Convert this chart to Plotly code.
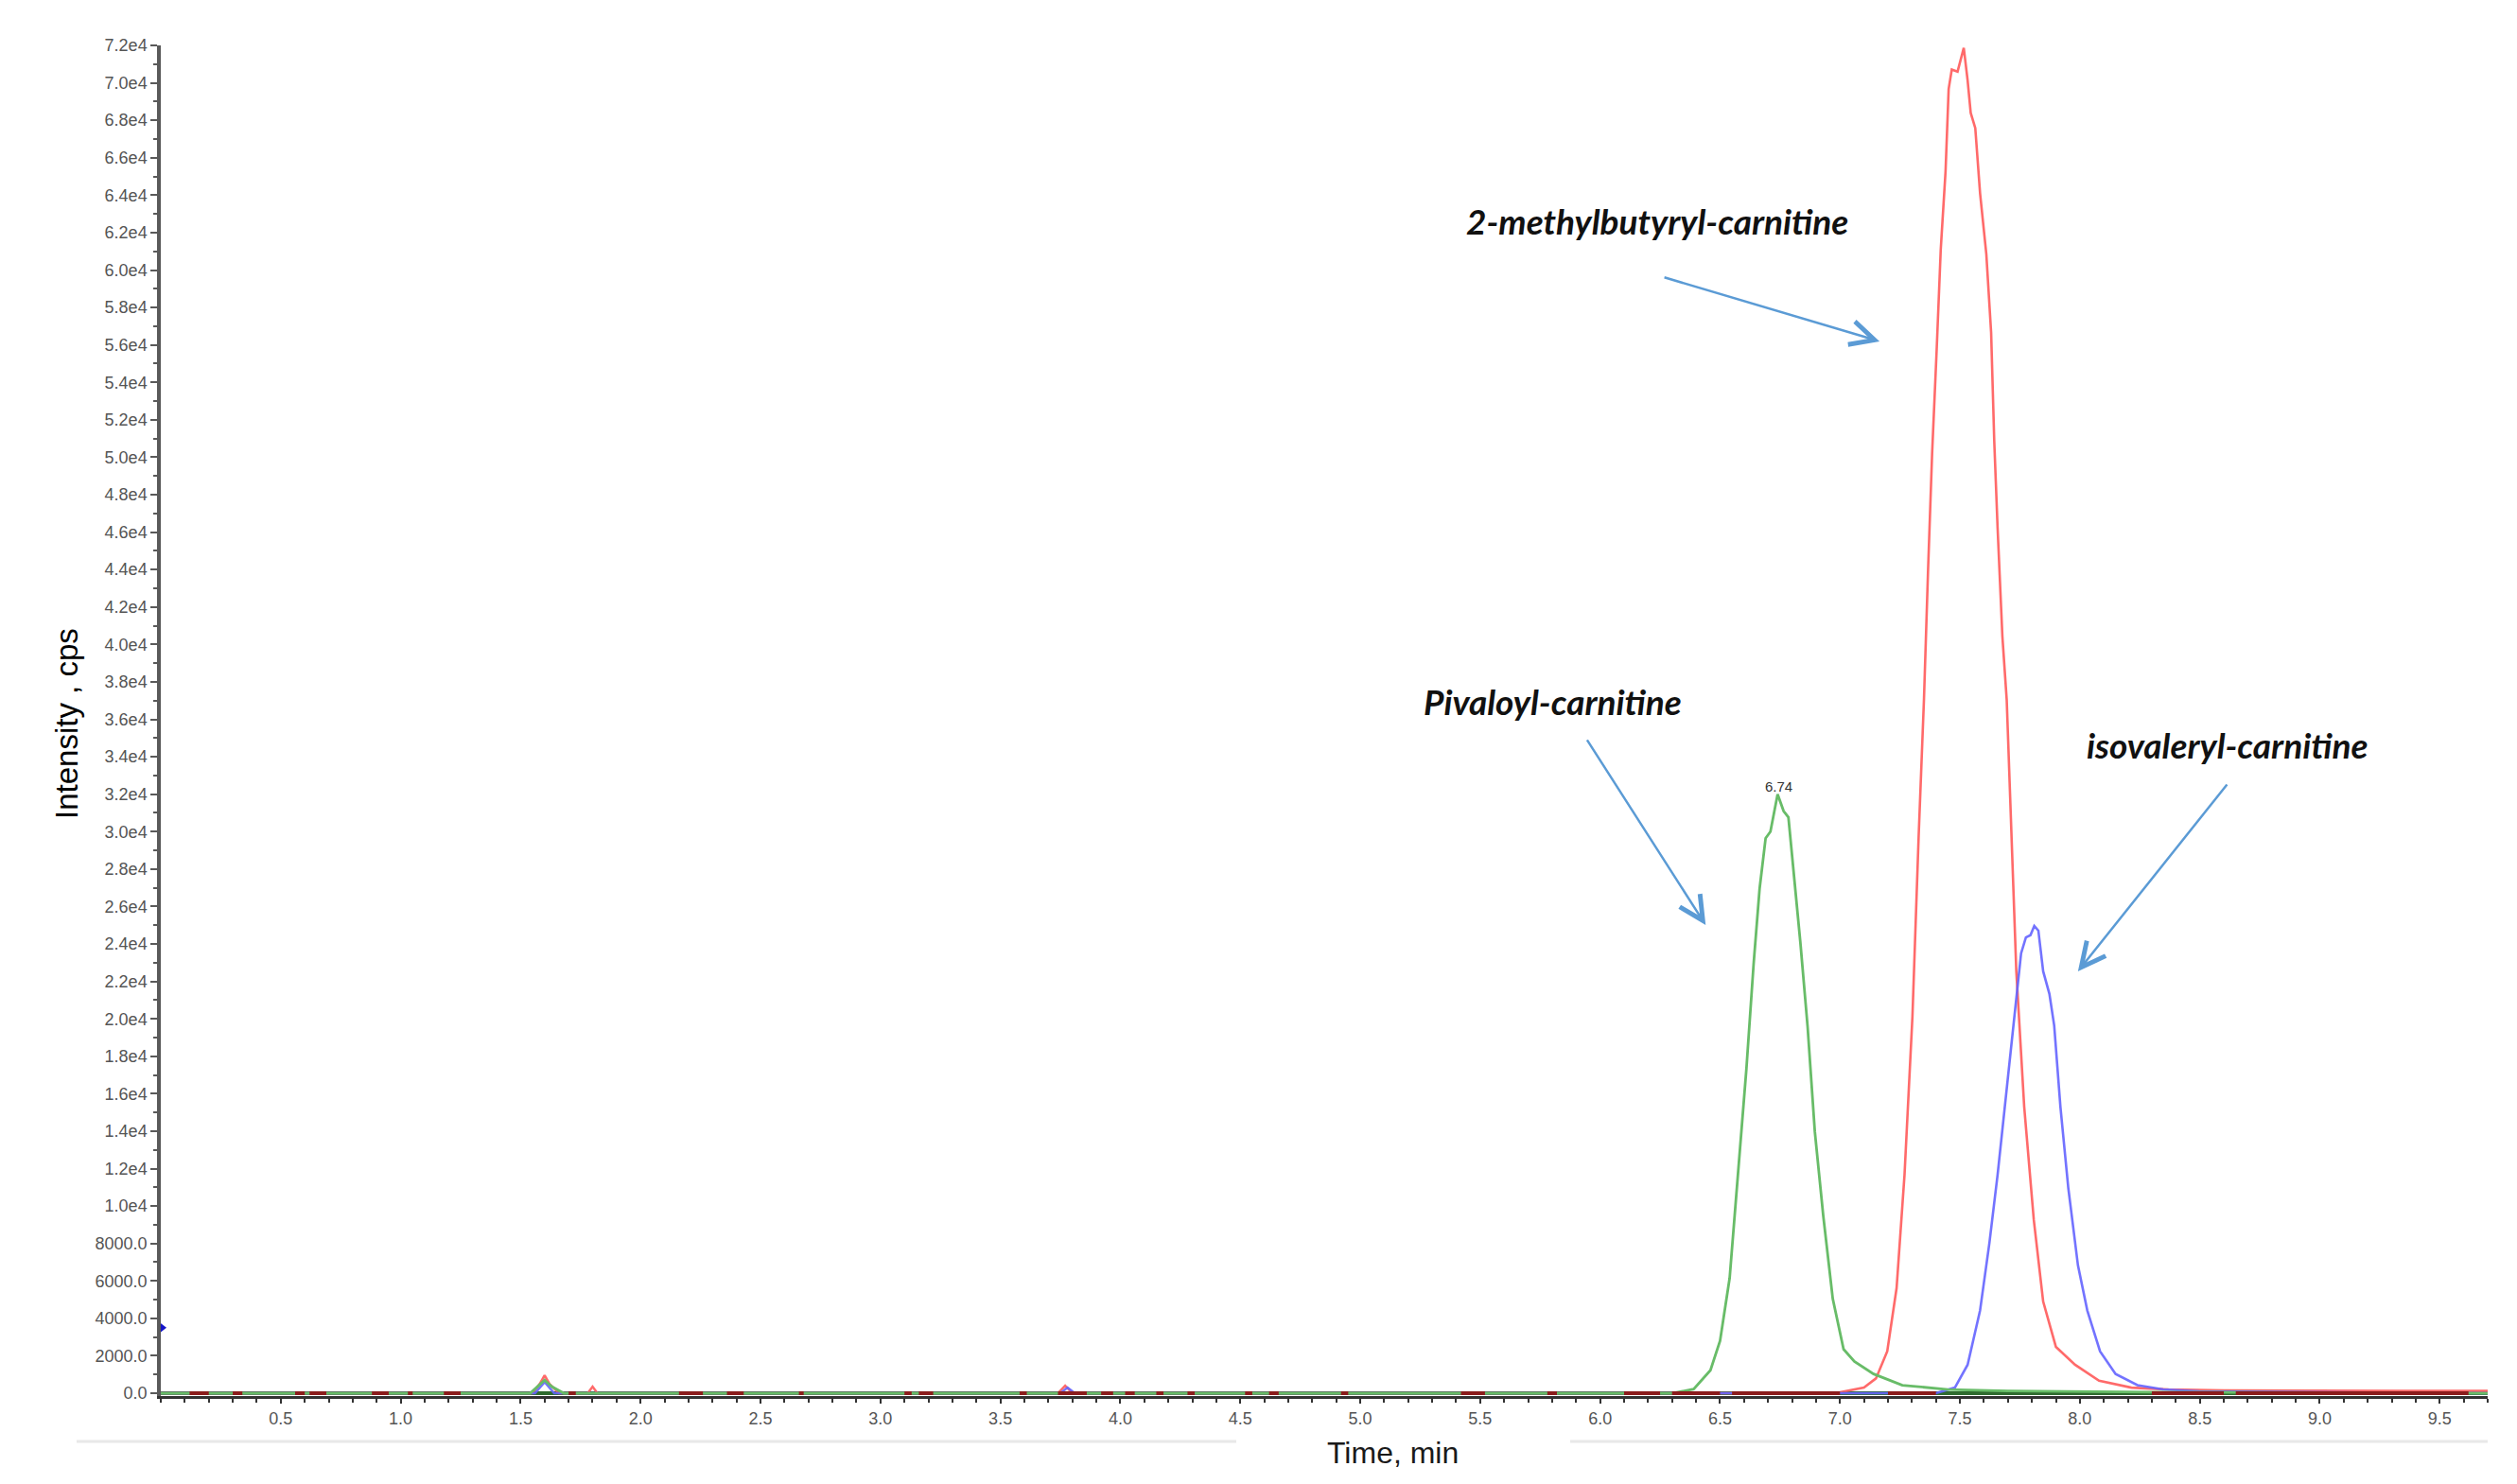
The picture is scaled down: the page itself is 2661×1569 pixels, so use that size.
import plotly.graph_objects as go

# ---------------- data ----------------
# Pivaloyl-carnitine (green)
green_t = [0.0, 1.54, 1.57, 1.60, 1.63, 1.68, 6.30, 6.39, 6.46, 6.50, 6.54, 6.575, 6.61, 6.64,
           6.665, 6.69, 6.71, 6.74, 6.765, 6.785, 6.81, 6.835, 6.865, 6.895, 6.93, 6.97, 7.015,
           7.06, 7.14, 7.26, 7.45, 7.70, 8.30, 9.70]
green_v = [0, 0, 350, 700, 350, 0, 0, 220, 1230, 2800, 6150, 11750, 17350, 22940,
           26970, 29650, 30000, 32000, 31100, 30770, 27400, 24060, 19580, 13990, 9510, 5035, 2350,
           1700, 1030, 430, 200, 120, 60, 0]

# 2-methylbutyryl-carnitine (red)
red_t = [0.0, 1.55, 1.58, 1.60, 1.62, 1.66, 1.78, 1.80, 1.82, 3.74, 3.77, 3.80, 6.90, 7.00,
         7.10, 7.15, 7.197, 7.236, 7.269, 7.302, 7.328, 7.35, 7.367, 7.384, 7.403, 7.42, 7.44,
         7.453, 7.466, 7.49, 7.516, 7.532, 7.545, 7.564, 7.584, 7.61, 7.63, 7.643, 7.657, 7.677,
         7.695, 7.716, 7.735, 7.768, 7.808, 7.847, 7.90, 7.98, 8.08, 8.215, 8.37, 8.60, 9.70]
red_v = [0, 0, 500, 950, 500, 0, 0, 350, 0, 0, 400, 0, 0, 50,
         300, 790, 2240, 5620, 11670, 20120, 29790, 37040, 43900, 50180, 55730, 61090, 65260,
         69670, 70710, 70600, 71870, 70140, 68390, 67580, 64100, 60850, 56670, 50880, 46230, 40430,
         37040, 29790, 22540, 15290, 9250, 4900, 2480, 1520, 670, 300, 200, 150, 120]

# isovaleryl-carnitine (blue)
blue_t = [0.0, 1.56, 1.60, 1.64, 3.75, 3.78, 3.81, 7.40, 7.479, 7.532, 7.584, 7.623, 7.657, 7.69,
          7.716, 7.735, 7.755, 7.775, 7.794, 7.81, 7.827, 7.847, 7.873, 7.893, 7.919, 7.952,
          7.992, 8.031, 8.084, 8.149, 8.24, 8.347, 8.50, 9.70]
blue_v = [0, 0, 600, 0, 0, 300, 0, 0, 300, 1520, 4420, 8040, 11670, 15770,
          18910, 21330, 23500, 24350, 24470, 24960, 24710, 22540, 21330, 19640, 15290, 10940,
          6830, 4420, 2240, 1030, 430, 200, 100, 0]

# baseline noise segments of the dark traces (start, end in min), intensity 0
noise_start = [0.12, 0.30, 0.56, 0.62, 0.88, 1.03, 1.18, 1.70, 2.16, 2.36, 2.66, 3.10, 3.16,
               3.58, 3.74, 3.92, 4.02, 4.15, 4.28, 4.52, 4.62, 4.92, 5.42, 5.78, 6.10, 6.30,
               6.55, 7.20, 8.30, 8.65]
noise_end = [0.20, 0.34, 0.60, 0.69, 0.95, 1.05, 1.25, 1.73, 2.26, 2.43, 2.68, 3.13, 3.22,
             3.61, 3.86, 3.97, 4.06, 4.18, 4.31, 4.55, 4.66, 4.95, 5.52, 5.82, 6.25, 6.50,
             7.00, 7.40, 8.60, 9.62]

blue_mark_t = [0.0]
blue_mark_v = [3500]

ytick_vals = list(range(0, 72001, 2000))
ytick_text = ["0.0", "2000.0", "4000.0", "6000.0", "8000.0", "1.0e4", "1.2e4", "1.4e4", "1.6e4",
              "1.8e4", "2.0e4", "2.2e4", "2.4e4", "2.6e4", "2.8e4", "3.0e4", "3.2e4", "3.4e4",
              "3.6e4", "3.8e4", "4.0e4", "4.2e4", "4.4e4", "4.6e4", "4.8e4", "5.0e4", "5.2e4",
              "5.4e4", "5.6e4", "5.8e4", "6.0e4", "6.2e4", "6.4e4", "6.6e4", "6.8e4", "7.0e4",
              "7.2e4"]
xtick_vals = [0.5, 1.0, 1.5, 2.0, 2.5, 3.0, 3.5, 4.0, 4.5, 5.0, 5.5, 6.0, 6.5, 7.0, 7.5, 8.0,
              8.5, 9.0, 9.5]
xtick_text = ["0.5", "1.0", "1.5", "2.0", "2.5", "3.0", "3.5", "4.0", "4.5", "5.0", "5.5", "6.0",
              "6.5", "7.0", "7.5", "8.0", "8.5", "9.0", "9.5"]

# ---------------- figure ----------------
fig = go.Figure()

# dark baseline underneath
fig.add_trace(go.Scatter(x=[0.0, 9.7], y=[0, 0], mode="lines",
                         line=dict(color="#2f6b2f", width=4), hoverinfo="skip"))

nx, ny = [], []
for s, e in zip(noise_start, noise_end):
    nx += [s, e, None]
    ny += [0, 0, None]

fig.add_trace(go.Scatter(x=red_t, y=red_v, mode="lines",
                         line=dict(color="rgba(255,90,90,0.9)", width=2.6), name="2-MB"))
fig.add_trace(go.Scatter(x=blue_t, y=blue_v, mode="lines",
                         line=dict(color="rgba(100,100,255,0.9)", width=2.6), name="IV"))
fig.add_trace(go.Scatter(x=green_t, y=green_v, mode="lines",
                         line=dict(color="rgb(104,188,104)", width=2.8), name="Pivaloyl"))
fig.add_trace(go.Scatter(x=nx, y=ny, mode="lines", connectgaps=False,
                         line=dict(color="#8b1c1c", width=4), hoverinfo="skip"))
fig.add_trace(go.Scatter(x=blue_mark_t, y=blue_mark_v, mode="markers", cliponaxis=False,
                         marker=dict(symbol="triangle-right", size=12, color="#1515c8"),
                         hoverinfo="skip"))

tick_font = dict(family="Liberation Sans, Arial, sans-serif", size=18, color="#555555")

fig.update_layout(
    width=2653, height=1561,
    margin=dict(l=162, r=31, t=40, b=93),
    paper_bgcolor="white", plot_bgcolor="white",
    showlegend=False,
    xaxis=dict(range=[0, 9.7], showgrid=False, zeroline=False,
               showline=True, linecolor="#333333", linewidth=3,
               tickmode="array", tickvals=xtick_vals, ticktext=xtick_text,
               ticks="outside", ticklen=5, tickwidth=2, tickcolor="#333333",
               tickfont=tick_font,
               minor=dict(tickmode="linear", tick0=0, dtick=0.1, ticks="outside",
                          ticklen=4, tickwidth=2, tickcolor="#333333")),
    yaxis=dict(range=[-150, 72000], showgrid=False, zeroline=False,
               showline=True, linecolor="#5a5a5a", linewidth=3.5,
               tickmode="array", tickvals=ytick_vals, ticktext=ytick_text,
               ticks="outside", ticklen=7, tickwidth=2, tickcolor="#5a5a5a",
               tickfont=tick_font,
               minor=dict(tickmode="linear", tick0=0, dtick=1000, ticks="outside",
                          ticklen=4, tickwidth=2, tickcolor="#5a5a5a")),
)

label_font = dict(family="Lato, Calibri, sans-serif", size=37, color="#111111",
                  weight="bold", style="italic")
arrow_col = "#5B9BD5"

annotations = [
    dict(x=6.236, y=62610, text="2-methylbutyryl-carnitine", showarrow=False, font=label_font),
    dict(x=5.804, y=36940, text="Pivaloyl-carnitine", showarrow=False, font=label_font),
    dict(x=8.616, y=34660, text="isovaleryl-carnitine", showarrow=False, font=label_font),
    dict(x=6.743, y=31900, text="6.74", showarrow=False, yanchor="bottom",
         font=dict(family="Liberation Sans, Arial, sans-serif", size=15, color="#333333")),
    # arrows
    dict(x=7.165, y=56190, ax=6.262, ay=59630, axref="x", ayref="y", text="", showarrow=True,
         arrowhead=5, arrowsize=2, arrowwidth=2.5, arrowcolor=arrow_col, standoff=0),
    dict(x=6.440, y=25010, ax=5.942, ay=34970, axref="x", ayref="y", text="", showarrow=True,
         arrowhead=5, arrowsize=2, arrowwidth=2.5, arrowcolor=arrow_col, standoff=0),
    dict(x=7.992, y=22540, ax=8.618, ay=32590, axref="x", ayref="y", text="", showarrow=True,
         arrowhead=5, arrowsize=2, arrowwidth=2.5, arrowcolor=arrow_col, standoff=0),
    # axis titles
    dict(xref="paper", yref="paper", x=-0.0402, y=0.498, text="Intensity , cps",
         textangle=-90, showarrow=False, xanchor="center", yanchor="middle",
         font=dict(family="Liberation Sans, Arial, sans-serif", size=33, color="#000000")),
    dict(xref="paper", yref="paper", x=0.5296, y=-0.0418, text="Time, min",
         showarrow=False, xanchor="center", yanchor="middle",
         font=dict(family="Liberation Sans, Arial, sans-serif", size=32, color="#1a1a1a")),
]
fig.update_layout(annotations=annotations)

# faint separator lines below the axis
for x0, x1 in [(-0.0362, 0.4622), (0.6057, 1.0)]:
    fig.add_shape(type="line", xref="paper", yref="paper", x0=x0, x1=x1, y0=-0.0336, y1=-0.0336,
                  line=dict(color="#e8e8e8", width=3))

fig.write_html("out.html")
